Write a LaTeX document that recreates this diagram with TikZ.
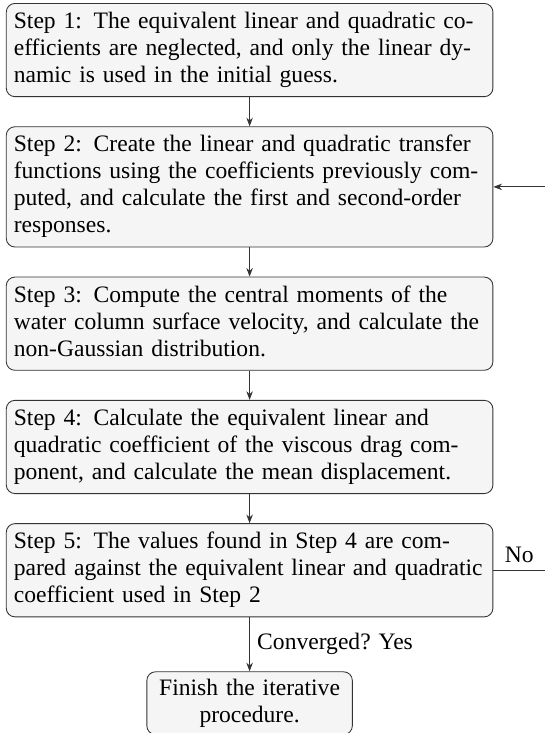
\documentclass[tikz,border=0pt]{standalone}
\usepackage{fontspec}
\setmainfont{Liberation Serif}
\usetikzlibrary{positioning}
\usetikzlibrary{arrows.meta}

\begin{document}
\begin{tikzpicture}[node distance=13.5pt, font=\fontsize{10.9pt}{12.5pt}\selectfont]
        \tikzstyle{stepbox}=[draw=black!80, fill=gray!8, rounded corners=4pt,
            text width=218pt, align=left, inner xsep=3.5pt, inner ysep=2.8pt,
            execute at begin node=\strut, execute at end node=\strut]
        \tikzstyle{flow}=[-{Stealth[length=4pt, width=3pt]}, draw=black!80]
        \useasboundingbox (-115.4pt,1.4pt) rectangle (136.6pt,-337.5pt);
        \coordinate (edge) at (136.6pt,0);

            \node[stepbox, anchor=north] (s1) at (0,0)
            {Step 1: The equivalent linear and quadratic co-\\
            efficients are neglected, and only the linear dy-\\
            namic is used in the initial guess.};
            \node[stepbox, below=of s1] (s2)
            {Step 2: Create the linear and quadratic transfer\\
            functions using the coefficients previously com-\\
            puted, and calculate the first and second-order\\
            responses.};
            \node[stepbox, below=of s2] (s3)
            {Step 3: Compute the central moments of the\\
            water column surface velocity, and calculate the\\
            non-Gaussian distribution.};
            \node[stepbox, below=of s3] (s4)
            {Step 4: Calculate the equivalent linear and\\
            quadratic coefficient of the viscous drag com-\\
            ponent, and calculate the mean displacement.};
            \node[stepbox, below=of s4] (s5)
            {Step 5: The values found in Step 4 are com-\\
            pared against the equivalent linear and quadratic\\
            coefficient used in Step 2};
            \node[stepbox, text width=88pt, align=center, inner ysep=2pt,
                below=25pt of s5] (fin)
            {Finish the iterative\\procedure.};

            \draw[flow] (s1) -- (s2);
            \draw[flow] (s2) -- (s3);
            \draw[flow] (s3) -- (s4);
            \draw[flow] (s4) -- (s5);
            \draw[flow] (s5) -- (fin) node[midway, right] {Converged? Yes};

            % loop back when not converged
            \coordinate (no5) at (s5.east -| edge);
            \coordinate (back2) at (s2.east -| edge);
            \draw[draw=black!80] (s5.east) -- (no5) node[midway, above] {No};
            \draw[flow] (back2) -- (s2.east);
        \end{tikzpicture}
\end{document}
